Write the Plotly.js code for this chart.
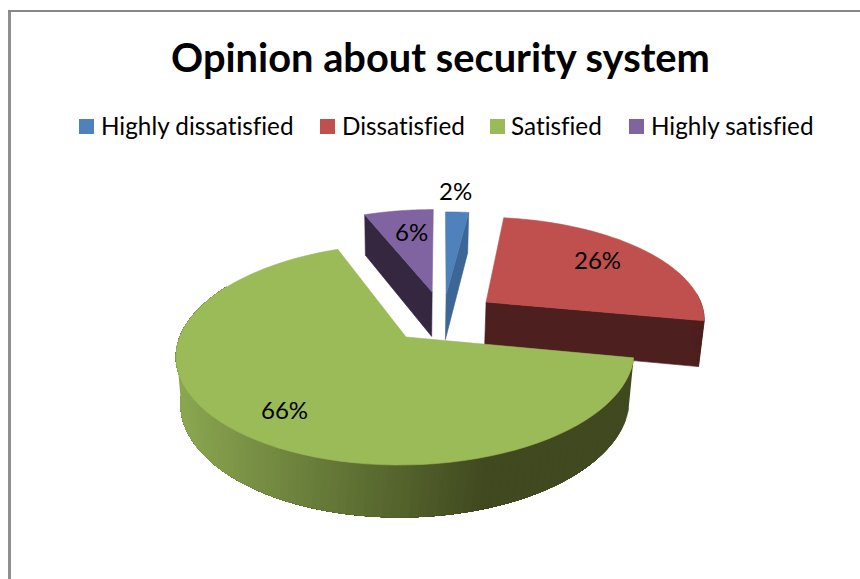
<!DOCTYPE html>
<html>
<head>
<meta charset="utf-8">
<script src="https://cdn.plot.ly/plotly-3.0.1.min.js"></script>
<style>html,body{margin:0;padding:0;background:#fff}#chart{width:860px;height:579px}svg text{font-variant-ligatures:none !important;font-feature-settings:"liga" 0,"clig" 0 !important}</style>
</head>
<body>
<div id="chart"></div>
<script>
// Survey shares, clockwise from twelve o'clock
const categories = ['Highly dissatisfied', 'Dissatisfied', 'Satisfied', 'Highly satisfied'];
const shares = [2, 26, 66, 6];
const topColors = ['#4f81bd', '#c0504d', '#9bbb59', '#8064a2'];
const sideColors = ['#3c6696', '#4d1f1e', '#40491f', '#35273f'];

// Perspective camera for the tilted disc (plane units are pie radii)
const cam = {cx: 406, cy: 337, rx: 226, ry: 108, tiltW: 0.156, vanishX: 35, depth: 47.5, depthW: 0.02};
// How far each slice is pulled out of the pie, in plane units
const pulled = [[0.179, 0.414], [0.365, 0.341], [0, 0], [0.113, 0.446]];
const labelSpots = [[455, 190], [597, 259], [284, 409], [411, 231]];
const legendSpots = [[79, 101], [320, 342], [490, 511], [629, 651]];

function project(X, Y, z) {
  const w = 1 + cam.tiltW * Y + cam.depthW * z;
  return [cam.cx + (cam.rx * X + cam.vanishX * cam.tiltW * Y) / w,
          cam.cy + (-cam.ry * Y + cam.depth * z) / w];
}
function rim(i, deg, z) {
  const t = deg * Math.PI / 180;
  return project(pulled[i][0] + Math.sin(t), pulled[i][1] + Math.cos(t), z);
}
function apex(i, z) { return project(pulled[i][0], pulled[i][1], z); }

function poly(points, color, name) {
  return {
    type: 'scatter', mode: 'lines', fill: 'toself', fillcolor: color,
    x: points.map(p => p[0]), y: points.map(p => p[1]),
    line: {color: color, width: 0.6, simplify: false}, hoverinfo: 'skip', showlegend: false, name: name || ''
  };
}

// Slice start/end angles follow directly from the shares
const total = shares.reduce((a, b) => a + b, 0);
const spans = [];
shares.reduce((acc, v) => { spans.push([acc, acc + v / total * 360]); return acc + v / total * 360; }, 0);

function topFace(i) {
  const pts = [apex(i, 0)];
  for (let k = 0; k <= 80; k++) pts.push(rim(i, spans[i][0] + (spans[i][1] - spans[i][0]) * k / 80, 0));
  pts.push(apex(i, 0));
  return poly(pts, topColors[i], categories[i]);
}
function cutFace(i, deg) {
  return poly([apex(i, 0), rim(i, deg, 0), rim(i, deg, 1), apex(i, 1), apex(i, 0)], sideColors[i]);
}
function lerpColor(a, b, t) {
  const c = a.map((v, n) => Math.round(v + (b[n] - v) * t));
  return `rgb(${c[0]},${c[1]},${c[2]})`;
}

const traces = [];
// Highly satisfied: left cut wall shows
traces.push(cutFace(3, spans[3][0]), topFace(3));
// Highly dissatisfied: right cut wall shows
traces.push(cutFace(0, spans[0][1]), topFace(0));
// Dissatisfied: lower cut wall and a sliver of the rim
traces.push(cutFace(1, spans[1][1]));
for (let d = 85; d < spans[1][1]; d += 2) {
  traces.push(poly([rim(1, d, 0), rim(1, Math.min(d + 2, spans[1][1]), 0), rim(1, Math.min(d + 2, spans[1][1]), 1), rim(1, d, 1)], sideColors[1]));
}
traces.push(topFace(1));
// Satisfied: rim shaded from light on the left to dark on the right.
// Each band runs on to the far end of the rim and the next one paints over it,
// so neighbouring bands never leave a seam.
const wallLight = [138, 167, 80], wallDark = [64, 73, 31];
const wallEnd = 300;
function wallFrom(start) {
  const pts = [];
  for (let q = start; q <= wallEnd; q += 2) pts.push(rim(2, q, 0));
  for (let q = wallEnd; q >= start; q -= 2) pts.push(rim(2, q, 1));
  return pts;
}
let lastX = Infinity;
for (let d = spans[2][0]; d < wallEnd; d += 0.5) {
  const x = rim(2, d, 0)[0];
  if (lastX - x < 3) continue;
  lastX = x;
  const t = Math.max(0, Math.min(1, (490 - x) / (490 - 180)));
  traces.push(poly(wallFrom(d), lerpColor(wallDark, wallLight, t)));
}
traces.push(topFace(2));

const textFont = 'Lato, Carlito, Calibri, sans-serif';
const annotations = shares.map((v, i) => ({
  x: labelSpots[i][0], y: labelSpots[i][1], text: v + '%', showarrow: false,
  xref: 'x', yref: 'y', font: {family: textFont, size: 24, color: '#000'}
}));
const shapes = [
  {type: 'line', xref: 'x', yref: 'y', x0: 9.5, x1: 9.5, y0: 10, y1: 579, line: {color: '#8f8f8f', width: 3}},
  {type: 'line', xref: 'x', yref: 'y', x0: 8, x1: 860, y0: 11, y1: 11, line: {color: '#868686', width: 2}}
];
categories.forEach((name, i) => {
  const [sw, tx] = legendSpots[i];
  shapes.push({type: 'rect', xref: 'x', yref: 'y', x0: sw, x1: sw + 15, y0: 119, y1: 134,
    fillcolor: topColors[i], line: {width: 0}});
  annotations.push({x: tx, y: 125.5, xanchor: 'left', text: name, showarrow: false,
    xref: 'x', yref: 'y', xshift: -2, font: {family: textFont, size: 24.3, color: '#000'}});
});

const hiddenAxis = {visible: false, fixedrange: true, showgrid: false, zeroline: false};
Plotly.newPlot('chart', traces, {
  width: 860, height: 579, margin: {l: 0, r: 0, t: 0, b: 0},
  paper_bgcolor: '#fff', plot_bgcolor: '#fff', showlegend: false,
  title: {text: '<b>Opinion about security system</b>', x: 440.5 / 860, xanchor: 'center', y: 1 - 58 / 579, yanchor: 'middle',
    font: {family: textFont, size: 39.8, color: '#000'}},
  xaxis: Object.assign({range: [0, 860]}, hiddenAxis),
  yaxis: Object.assign({range: [579, 0]}, hiddenAxis),
  shapes: shapes, annotations: annotations
}, {displayModeBar: false, staticPlot: true});
</script>
</body>
</html>
